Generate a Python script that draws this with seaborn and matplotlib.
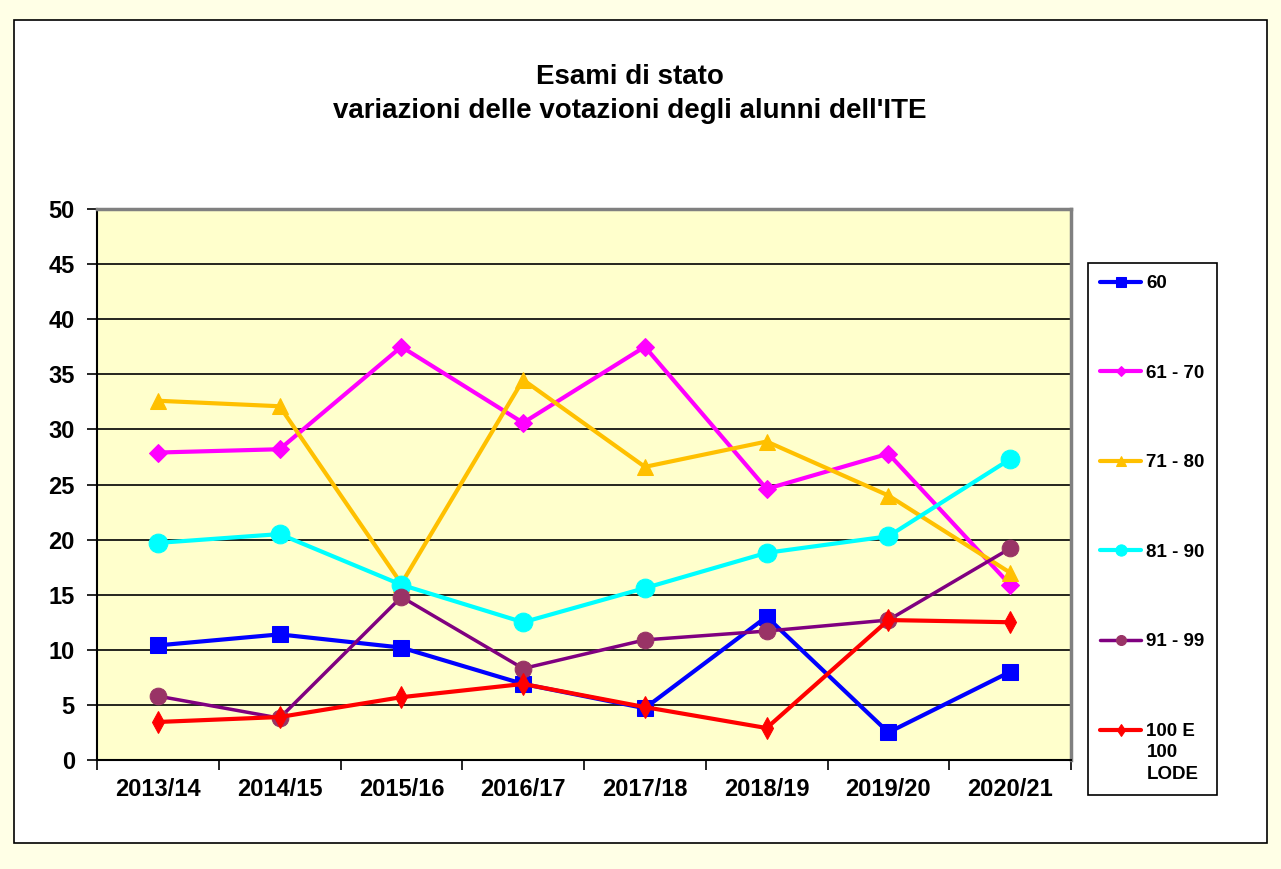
import matplotlib
matplotlib.use("Agg")
import matplotlib.pyplot as plt
from matplotlib.patches import Rectangle
from matplotlib.ticker import MultipleLocator, FixedLocator
from matplotlib.legend_handler import HandlerLine2D
import seaborn as sns
import numpy as np

# dati
anni = ["2013/14", "2014/15", "2015/16", "2016/17", "2017/18", "2018/19", "2019/20", "2020/21"]
v60 = [10.4, 11.4, 10.2, 6.9, 4.7, 13.0, 2.5, 8.0]
v61_70 = [27.9, 28.2, 37.5, 30.6, 37.5, 24.6, 27.8, 15.9]
v71_80 = [32.6, 32.1, 16.0, 34.5, 26.6, 28.9, 24.0, 17.0]
v81_90 = [19.7, 20.5, 15.9, 12.5, 15.6, 18.8, 20.3, 27.3]
v91_99 = [5.8, 3.8, 14.8, 8.3, 10.9, 11.7, 12.7, 19.2]
v100 = [3.45, 3.9, 5.7, 6.9, 4.8, 2.9, 12.7, 12.5]
etichette = ["60", "61 - 70", "71 - 80", "81 - 90", "91 - 99", "100 E\n100\nLODE"]

sns.set_style("white")
plt.rcParams["font.family"] = ["Liberation Sans", "DejaVu Sans"]
plt.rcParams["font.weight"] = "bold"
plt.rcParams["text.color"] = "black"
plt.rcParams["xtick.color"] = "black"
plt.rcParams["ytick.color"] = "black"


# la voce su tre righe: simbolo allineato alla prima riga
class PrimaRiga(HandlerLine2D):
    def create_artists(self, legend, orig_handle, xdescent, ydescent, width, height, fontsize, trans):
        arts = super().create_artists(legend, orig_handle, xdescent, ydescent, width, height, fontsize, trans)
        for a in arts:
            a.set_ydata(np.asarray(a.get_ydata()) + fontsize * 1.2)
        return arts


fig = plt.figure(figsize=(12.81, 8.69), dpi=100)
fig.patch.set_facecolor("#FFFFE6")
# riquadro bianco del grafico
fig.patches.append(Rectangle((14 / 1281, 1 - 843 / 869), 1253 / 1281, 823 / 869,
                             transform=fig.transFigure, facecolor="white",
                             edgecolor="black", linewidth=1.2, zorder=-5))

ax = fig.add_axes([97 / 1281, 1 - 760 / 869, 974 / 1281, 551 / 869])
ax.set_facecolor("#FFFFCC")

x = np.arange(len(anni))
stili = [
    (v60, "#0000FF", "s", 11.5, "#0000FF", 3.0),
    (v61_70, "#FF00FF", "D", 9, "#FF00FF", 3.0),
    (v71_80, "#FFC000", "^", 12, "#FFC000", 3.0),
    (v81_90, "#00FFFF", "o", 13.5, "#00FFFF", 3.0),
    (v91_99, "#800080", "o", 12, "#993366", 2.5),
    (v100, "#FF0000", "d", 11, "#FF0000", 3.0),
]
for (vals, col, mk, ms, mcol, lw), lab in zip(stili, etichette):
    sns.lineplot(x=x, y=vals, ax=ax, color=col, marker=mk, markersize=ms,
                 markerfacecolor=mcol, markeredgecolor=mcol, linewidth=lw,
                 label=lab, legend=False)

ax.set_xlim(-0.5, len(anni) - 0.5)
ax.set_ylim(0, 50)
ax.yaxis.set_major_locator(MultipleLocator(5))
ax.yaxis.grid(True, color="black", linewidth=1.2)
ax.set_axisbelow(True)
ax.set_xticks(x)
ax.set_xticklabels(anni)
ax.xaxis.set_minor_locator(FixedLocator(np.arange(-0.5, len(anni), 1.0)))
ax.tick_params(axis="x", which="major", length=0, pad=13, labelsize=17)
ax.tick_params(axis="x", which="minor", length=7, width=1.2, color="black", direction="out",
               bottom=True)
ax.tick_params(axis="y", length=7, width=1.2, color="black", direction="out",
               left=True, pad=9, labelsize=17)
for lbl in ax.get_xticklabels() + ax.get_yticklabels():
    lbl.set_fontweight("bold")

for s in ["left", "bottom"]:
    ax.spines[s].set_color("black")
    ax.spines[s].set_linewidth(1.5)
for s in ["top", "right"]:
    ax.spines[s].set_color("#808080")
    ax.spines[s].set_linewidth(2.5)

fig.text(630 / 1281, 1 - 94 / 869, "Esami di stato\nvariazioni delle votazioni degli alunni dell'ITE",
         ha="center", va="center", fontsize=20, fontweight="bold", linespacing=1.35)

handles, labels = ax.get_legend_handles_labels()
leg = fig.legend(handles, labels, loc="upper left",
                 bbox_to_anchor=(1088 / 1281, 1 - 263 / 869), borderaxespad=0,
                 frameon=True, fancybox=False, edgecolor="black", framealpha=1,
                 prop={"size": 13.5, "weight": "bold"}, labelspacing=3.86,
                 handlelength=2.2, handletextpad=0.27, markerscale=0.6,
                 borderpad=0.65, handler_map={handles[-1]: PrimaRiga()})
leg.get_frame().set_linewidth(1.2)
for t in leg.get_texts():
    t.set_linespacing(1.35)

fig.savefig("out.png", dpi=100, facecolor=fig.get_facecolor())
